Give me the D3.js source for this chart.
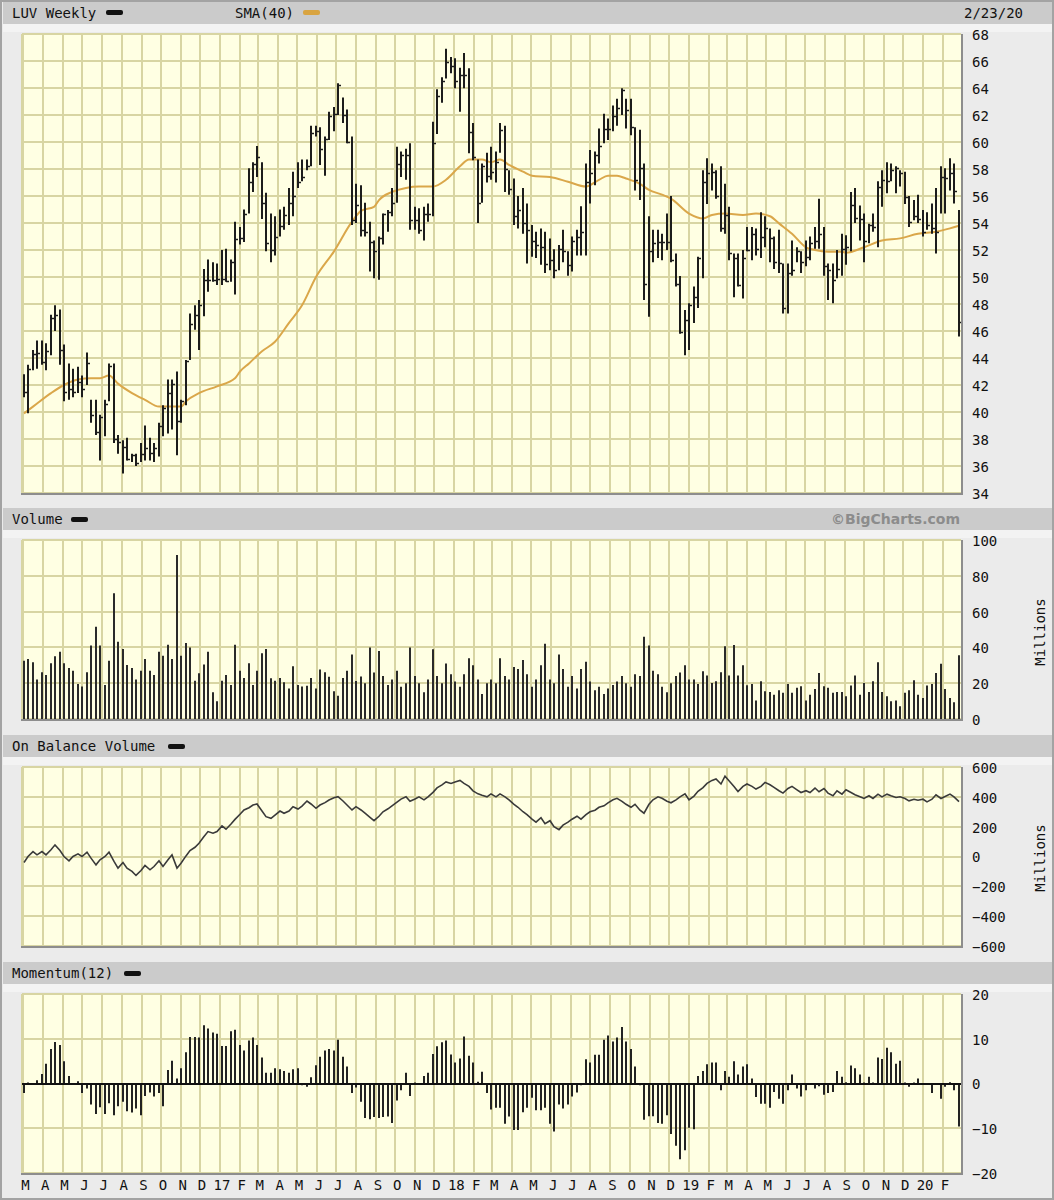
<!DOCTYPE html>
<html><head><meta charset="utf-8">
<script src="https://cdn.jsdelivr.net/npm/d3@7"></script>
<style>
html,body{margin:0;padding:0;background:#ebebeb;}
svg{display:block;}
text{font-family:"DejaVu Sans Mono",monospace;}
</style></head><body>
<svg id="chart" width="1054" height="1200"></svg>
<script>
// ---------- DATA (weekly bars, first week starting 2016-02-28, last 2020-02-23) ----------
const highs = [42.8,43.5,44.6,45.3,45.3,45.1,47.2,47.9,47.6,45.0,
43.6,43.2,43.35,42.7,44.4,40.9,40.9,39.8,40.9,43.6,
43.6,38.3,37.9,38.1,36.9,36.9,37.7,39.0,38.1,37.7,
39.2,40.5,42.4,42.4,43.0,40.9,43.85,47.3,47.9,48.3,
50.6,51.3,51.1,51.0,52.0,52.1,51.3,54.1,53.7,55.0,
58.05,58.5,59.7,58.5,56.25,54.7,54.5,55.0,55.2,56.6,
57.8,58.5,58.7,58.7,61.2,61.2,61.1,60.4,62.25,62.6,
64.35,63.3,62.4,60.4,56.9,56.8,55.5,54.1,52.7,53.0,
54.7,54.96,56.6,59.65,59.3,59.5,59.9,55.2,55.1,55.2,
55.45,61.5,63.9,64.8,66.9,66.3,66.2,65.5,66.6,65.46,
61.4,58.7,58.4,59.2,59.65,59.3,61.4,61.2,57.9,57.3,
56.0,56.6,55.45,53.85,53.35,53.6,53.35,52.86,52.05,52.37,
53.5,51.9,53.0,53.5,55.25,58.4,59.4,59.3,61.0,62.1,
61.75,62.7,63.2,63.98,63.2,63.2,61.1,60.9,58.4,54.5,
53.5,53.5,53.2,54.7,56.0,51.75,50.07,47.55,48.05,49.3,
51.5,57.9,58.8,58.4,57.9,58.2,56.9,55.2,51.75,51.75,
52.0,53.7,53.7,53.6,54.8,54.5,53.6,53.0,53.5,51.0,
51.0,52.7,52.2,51.9,52.7,53.0,53.7,55.8,53.7,51.0,
51.0,52.0,53.2,53.1,56.3,56.6,55.3,54.7,53.95,54.7,
57.1,57.9,58.5,58.4,58.2,57.9,57.8,56.0,55.7,56.1,
54.96,54.8,55.45,56.6,58.2,58.05,58.8,58.4,54.96];

const lows = [41.1,39.9,43.1,43.2,43.5,43.1,44.2,46.0,43.5,40.8,
40.9,41.1,41.4,41.1,42.0,39.2,38.3,36.4,38.2,40.8,
37.7,36.9,35.45,36.4,36.3,36.0,36.3,36.4,36.4,36.3,
36.7,38.2,38.4,38.7,36.8,39.2,40.5,43.85,46.1,44.6,
47.1,48.9,49.65,49.4,49.4,49.65,49.65,48.7,52.4,52.6,
54.7,56.3,57.4,54.3,51.9,51.1,51.6,53.0,53.5,53.85,
54.5,56.6,57.1,57.9,58.2,60.4,58.3,57.5,60.15,60.8,
62.0,61.4,59.9,53.85,54.0,53.0,53.0,50.4,49.9,49.8,
52.4,53.35,54.5,55.5,57.4,57.2,53.5,53.5,53.2,52.7,
54.1,54.5,60.6,62.9,64.7,65.1,63.98,62.25,63.98,59.16,
58.65,54.0,55.5,57.0,57.2,57.0,59.2,56.3,56.1,53.85,
53.6,53.2,51.0,51.5,51.4,50.9,50.3,50.5,49.9,50.5,
51.1,50.1,50.4,51.6,51.6,51.6,55.45,56.8,58.4,59.9,
60.15,60.8,61.2,62.0,61.0,60.5,56.4,55.7,48.3,47.06,
51.1,51.4,51.25,52.0,51.1,49.3,45.8,44.2,44.6,46.6,
47.7,49.9,55.4,56.4,55.8,53.35,53.2,51.25,48.5,49.3,
48.4,51.9,51.25,51.6,51.4,52.2,51.1,50.6,50.3,47.3,
47.3,50.1,51.1,50.3,50.8,51.25,52.1,52.1,50.1,48.3,
48.05,49.9,50.1,50.9,51.9,54.0,52.7,51.1,52.5,53.35,
52.2,55.2,56.2,57.1,56.2,56.7,55.4,53.7,54.2,54.0,
53.0,53.5,53.2,51.75,54.7,54.7,56.4,55.45,45.6];

const closes = [41.5,43.2,44.3,44.4,43.7,44.5,47.0,47.2,44.6,41.5,
41.7,41.5,42.2,41.7,43.6,39.8,38.5,39.6,40.6,43.4,
38.0,37.8,37.4,36.5,36.8,36.2,36.9,37.3,37.0,37.3,
39.0,40.3,41.4,42.1,39.3,40.8,43.8,46.5,47.2,47.9,
49.8,49.8,49.8,49.85,49.85,49.7,51.1,52.8,52.9,54.7,
57.0,58.4,58.9,55.5,52.5,52.0,53.0,53.8,54.6,55.5,
56.0,57.0,57.4,58.2,60.7,60.8,59.5,60.2,61.9,62.1,
64.2,62.0,60.0,54.2,55.3,53.5,53.3,52.6,51.9,52.9,
54.7,54.8,55.5,58.4,59.0,59.0,54.2,54.2,53.5,54.7,
54.7,59.9,63.4,64.5,65.95,65.6,64.5,64.96,64.96,60.77,
58.9,55.45,58.2,57.5,57.8,58.5,60.9,58.0,56.5,54.5,
55.0,54.0,53.5,52.7,52.4,52.2,51.0,51.25,50.5,52.1,
51.9,50.9,52.7,53.0,53.35,57.0,57.7,59.0,59.7,61.0,
61.0,61.9,62.5,63.85,62.4,61.1,57.2,58.05,49.5,51.9,
52.5,52.6,52.6,52.6,51.25,49.5,45.95,46.8,47.9,48.5,
51.4,57.0,57.7,57.8,56.0,53.6,54.6,51.75,51.4,49.4,
51.4,52.0,53.2,52.1,53.0,53.6,52.9,51.1,51.05,47.7,
50.3,50.5,51.9,51.1,51.5,52.5,52.7,53.2,50.8,50.5,
49.8,50.6,52.1,52.2,55.3,54.4,54.3,52.7,53.85,53.7,
56.7,57.2,57.1,57.9,58.05,57.7,55.95,54.1,54.5,54.3,
53.35,53.85,53.6,53.35,57.4,57.3,57.7,56.4,46.7];

// SMA(40) read at selected weeks (week index from first bar)
const smaWeek = [0,2,6,9,12,15,17,19,21,24,27,30,33,35,36,39,43,47,48,50,
53,56,59,62,65,69,73,75,78,79,82,85,88,91,94,97,99,102,104,106,
108,111,113,117,121,125,128,130,132,134,137,139,142,144,148,151,153,156,160,163,
166,168,171,174,176,179,182,183,187,191,195,199,203,206,208];
const smaValue = [39.9,40.4,41.4,42.0,42.4,42.5,42.5,42.7,42.1,41.4,40.9,40.4,40.4,40.4,40.8,41.4,41.9,42.5,43.0,43.6,
44.5,45.2,46.6,47.9,50.0,51.9,54.1,54.9,55.2,55.7,56.3,56.6,56.7,56.7,57.2,58.2,58.7,58.7,58.5,58.7,
58.3,57.8,57.5,57.4,57.06,56.7,57.2,57.5,57.5,57.3,56.9,56.45,56.1,55.8,54.7,54.34,54.6,54.7,54.6,54.7,
54.5,53.97,53.2,52.2,52.0,51.87,51.87,51.8,52.2,52.7,52.86,53.2,53.35,53.6,53.8];

// Volume (millions)
const volumes = [32.6,33.5,31.7,22.0,26.1,24.6,31.1,35.0,37.6,31.1,
28.5,27.0,19.6,18.1,26.1,41.0,51.6,41.0,19.0,32.6,
70.2,43.2,39.1,30.2,28.5,22.0,27.0,33.5,27.0,24.6,
37.6,35.4,41.5,33.5,91.6,35.4,42.5,40.0,21.4,25.5,
30.4,37.6,14.9,9.9,21.4,24.6,19.0,41.5,27.0,22.9,
31.1,19.0,27.0,36.7,39.1,22.7,21.4,22.9,20.5,17.1,
29.4,19.0,18.1,18.6,22.9,17.1,27.6,26.1,23.6,15.5,
13.0,22.9,27.0,36.1,21.2,23.8,20,40,26,38,
24,19,22,27,18,20,40,24,20,15,
22,39,24,20,31,25,21,18,25,34,
30,22,14,20,22,20,34,24,22,29,
28,33,25,18,22,30,42,22,20,36,
28,18,24,17,28,32,21,16,18,14,
17,19,21,24,20,18,25,24,46,41,
27,25,18,15,20,24,26,30,22,22.0,
19.6,26.7,24.3,20.1,21.1,26.1,40.7,24.3,41.4,24.3,
30.0,18.8,19.6,10.4,21.1,15.5,15.1,13.6,16.0,14.6,
19.6,14.6,17.4,18.3,10.4,13.6,16.8,25.7,18.3,17.4,
14.6,15.1,15.1,12.7,18.7,24.3,13.6,20.1,15.1,21.1,
31.7,15.1,12.7,9.9,10.4,7.1,14.6,16.0,21.6,13.6,
11.8,18.7,19.6,25.7,30.8,16.8,11.8,9.3,35.6];

// On Balance Volume (millions)
const obv = [-40,0,33,11,33,11,45,78,40,0,
-29,0,18,0,29,-11,-56,-22,0,29,
-33,-78,-40,-78,-100,-127,-94,-60,-89,-67,
-29,-67,-22,11,-78,-45,4,40,62,89,
134,167,156,167,205,183,218,249,283,312,
327,345,352,305,267,256,278,305,290,305,
334,318,338,372,352,323,345,361,379,394,
401,372,345,312,334,312,290,262,240,270,
300,320,340,365,385,400,370,385,400,380,
400,430,460,480,500,490,500,510,490,470,
440,420,410,400,420,400,420,400,380,350,
330,300,280,250,230,260,220,240,200,180,
210,230,250,270,250,280,300,310,330,340,
360,380,390,370,350,330,350,310,290,350,
380,400,390,370,360,380,400,420,380,405,
437,462,490,510,520,486,538,508,470,436,
470,486,470,452,470,497,481,463,441,425,
456,470,447,429,441,429,459,434,456,425,
407,441,418,447,429,414,400,389,407,389,
418,400,418,407,396,400,389,373,384,377,
384,366,384,414,389,402,418,400,368];

// Momentum(12)
const momentum = [-2.1,0.2,-0.2,0.75,2.1,4.4,7.7,9.3,8.6,5.0,
1.7,0.1,0.5,-2.1,-1.1,-4.7,-6.8,-5.3,-6.8,-4.4,
-7.1,-5.1,-4.1,-6.2,-6.5,-5.6,-7.1,-2.8,-2.0,-2.9,
-2.1,-5.1,3.0,5.1,1.1,3.4,7.0,10.4,10.4,10.3,
13.0,12.3,11.4,11.1,8.4,8.4,11.7,12.0,8.6,7.4,
9.6,10.3,8.6,5.8,2.4,2.4,3.4,3.2,2.8,2.4,
3.2,3.4,-0.4,-0.75,1.4,4.1,6.0,7.4,7.7,7.4,
9.8,6.0,3.8,-2.1,-0.9,-4.1,-7.7,-8.0,-7.5,-7.7,
-7.5,-7.4,-8.8,-3.8,-1.5,2.4,-2.8,0.2,-0.1,1.7,
2.4,6.6,8.3,9.2,9.6,6.5,4.7,5.6,10.5,6.2,
4.7,0.4,2.6,-2.1,-5.8,-5.4,-5.4,-9.0,-7.4,-10.4,
-10.4,-6.4,-5.4,-3.2,-6.0,-6.0,-5.4,-9.0,-10.7,-4.7,
-5.6,-4.7,-2.9,-2.0,-0.4,5.4,4.7,6.4,6.4,9.8,
10.7,9.4,10.3,12.6,9.4,7.7,3.8,-0.4,-8.1,-7.3,
-7.3,-8.8,-9.0,-7.1,-11.3,-13.9,-16.9,-14.9,-9.9,-10.2,
1.7,2.8,4.3,4.7,4.7,-1.5,2.8,1.5,5.0,2.0,
3.8,4.3,1.1,-3.0,-4.5,-4.5,-5.4,-1.9,-3.4,-4.5,
-1.5,2.0,-1.1,-2.9,-1.5,-0.3,-1.1,-0.6,-2.5,-2.1,
-1.9,2.8,1.5,0.3,4.0,3.4,2.0,0.2,1.5,0.2,
5.8,5.5,8.0,7.0,4.4,5.1,0.2,-0.75,0.2,1.1,
0.1,-0.2,-2.1,0.1,-3.4,-0.75,0.3,-1.5,-9.6];

const priceTicks = [34,36,38,40,42,44,46,48,50,52,54,56,58,60,62,64,66,68];
const volumeTicks = [0,20,40,60,80,100];
const obvTicks = [-600,-400,-200,0,200,400,600];
const momentumTicks = [-20,-10,0,10,20];
const monthLetters = ["J","F","M","A","M","J","J","A","S","O","N","D"];
const headerDate = "2/23/20";

// ---------- LAYOUT ----------
const W = 1054, H = 1200, X0 = 22, X1 = 961;
const BG = "#ebebeb", PLOT_BG = "#ffffe3", GRID = "#d8d5a3", HEAD = "#cbcbcb";
const svg = d3.select("#chart");
svg.append("rect").attr("width", W).attr("height", H).attr("fill", BG);

const x = d3.scaleTime().domain([new Date(2016,1,27,19), new Date(2020,1,29)]).range([X0, X1]);
const t0 = new Date(2016,1,28);
const N = highs.length;
const bx = i => Math.round(x(d3.timeHour.offset(t0, i*168 + 60)));
const months = d3.timeMonth.range(new Date(2016,2,1), new Date(2020,2,1));

function header(y0, y1) {
  svg.append("rect").attr("x", 3).attr("y", y0).attr("width", 1049).attr("height", y1 - y0).attr("fill", HEAD);
  svg.append("rect").attr("x", 3).attr("y", y1).attr("width", 1049).attr("height", 8).attr("fill", "#f3f3f3");
}
function legendKey(xk, yk, color) {
  svg.append("rect").attr("x", xk).attr("y", yk).attr("width", 17).attr("height", 5).attr("rx", 2).attr("fill", color);
}
function headText(xt, yt, s, anchor) {
  svg.append("text").attr("x", xt).attr("y", yt).attr("dy", "0.35em").attr("font-size", 14)
    .attr("text-anchor", anchor || "start").attr("fill", "#111").text(s);
}

function panel(id, top, bottom, domain, ticks) {
  const y = d3.scaleLinear().domain(domain).range([bottom, top]);
  svg.append("rect").attr("x", X0).attr("y", top).attr("width", X1 - X0).attr("height", bottom - top).attr("fill", PLOT_BG);
  const g = svg.append("g");
  g.selectAll("line.h").data(ticks).join("line")
    .attr("x1", X0).attr("x2", X1).attr("y1", d => Math.round(y(d))).attr("y2", d => Math.round(y(d)))
    .attr("stroke", GRID).attr("stroke-width", 2);
  g.selectAll("line.v").data(months.filter(m => x(m) > X0 + 1)).join("line")
    .attr("x1", d => Math.round(x(d))).attr("x2", d => Math.round(x(d))).attr("y1", top).attr("y2", bottom)
    .attr("stroke", GRID).attr("stroke-width", 2);
  g.append("line").attr("x1", X0).attr("x2", X0).attr("y1", top).attr("y2", bottom).attr("stroke", GRID).attr("stroke-width", 2);
  // shadow right & bottom
  svg.append("line").attr("x1", X1 + 1).attr("x2", X1 + 1).attr("y1", top).attr("y2", bottom + 2).attr("stroke", "#8d8d8d").attr("stroke-width", 2);
  svg.append("line").attr("x1", X0 - 1).attr("x2", X1 + 2).attr("y1", bottom + 1).attr("y2", bottom + 1).attr("stroke", "#8d8d8d").attr("stroke-width", 2);
  // tick labels
  svg.append("g").selectAll("text").data(ticks).join("text")
    .attr("x", 972).attr("y", d => y(d) + 1).attr("dy", "0.35em").attr("font-size", 14).attr("fill", "#111")
    .text(d => d < 0 ? "\u2212" + Math.abs(d) : d);
  svg.append("clipPath").attr("id", id).append("rect").attr("x", X0).attr("y", top - 1).attr("width", X1 - X0).attr("height", bottom - top + 2);
  const content = svg.append("g").attr("clip-path", `url(#${id})`);
  return { y, g: content };
}

// ---------- PRICE ----------
header(2, 24);
headText(12, 13, "LUV Weekly");
legendKey(106, 10, "#111");
headText(235, 13, "SMA(40)");
legendKey(303, 10, "#d9a441");
headText(1023, 13, headerDate, "end");

const P = panel("clipP", 34, 493, [34, 68], priceTicks);
const idx = d3.range(N);
P.g.append("path")
  .datum(d3.range(smaWeek.length))
  .attr("fill", "none").attr("stroke", "#daa74a").attr("stroke-width", 2)
  .attr("d", d3.line().x(k => bx(smaWeek[k])).y(k => P.y(smaValue[k])).curve(d3.curveMonotoneX));
P.g.selectAll("line.bar").data(idx).join("line")
  .attr("x1", bx).attr("x2", bx)
  .attr("y1", i => P.y(highs[i])).attr("y2", i => P.y(lows[i]))
  .attr("stroke", "#1c1c1c").attr("stroke-width", 2);
P.g.selectAll("line.tick").data(idx).join("line")
  .attr("x1", bx).attr("x2", i => bx(i) + 3)
  .attr("y1", i => Math.round(P.y(closes[i])) + 0.5).attr("y2", i => Math.round(P.y(closes[i])) + 0.5)
  .attr("stroke", "#1c1c1c").attr("stroke-width", 1.5);

// ---------- VOLUME ----------
header(508, 530);
headText(12, 519, "Volume");
legendKey(71, 517, "#111");
svg.append("text").attr("x", 960).attr("y", 519).attr("dy", "0.36em").attr("text-anchor", "end")
  .style("font-family", "Verdana, 'DejaVu Sans', sans-serif").style("font-weight", "bold").style("font-size", "14px")
  .attr("fill", "#8c8c8c").text("\u00a9BigCharts.com");
const V = panel("clipV", 540, 719, [0, 100], volumeTicks);
V.g.selectAll("line.vol").data(idx).join("line")
  .attr("x1", bx).attr("x2", bx).attr("y1", V.y(0)).attr("y2", i => V.y(volumes[i]))
  .attr("stroke", "#2a2a2a").attr("stroke-width", 2);
svg.append("text").attr("transform", "translate(1040,632) rotate(-90)").attr("text-anchor", "middle")
  .attr("dy", "0.35em").attr("font-size", 14).attr("fill", "#111").text("Millions");

// ---------- OBV ----------
header(735, 757);
headText(12, 746, "On Balance Volume");
legendKey(168, 744, "#111");
const O = panel("clipO", 767, 946, [-600, 600], obvTicks);
O.g.append("path").datum(idx)
  .attr("fill", "none").attr("stroke", "#3a3a3a").attr("stroke-width", 1.6)
  .attr("d", d3.line().x(bx).y(i => O.y(obv[i])));
svg.append("text").attr("transform", "translate(1040,858) rotate(-90)").attr("text-anchor", "middle")
  .attr("dy", "0.35em").attr("font-size", 14).attr("fill", "#111").text("Millions");

// ---------- MOMENTUM ----------
header(962, 984);
headText(12, 973, "Momentum(12)");
legendKey(124, 971, "#111");
const M = panel("clipM", 994, 1173, [-20, 20], momentumTicks);
M.g.selectAll("line.mom").data(idx).join("line")
  .attr("x1", bx).attr("x2", bx).attr("y1", M.y(0)).attr("y2", i => M.y(momentum[i]))
  .attr("stroke", "#222").attr("stroke-width", 2);
M.g.append("line").attr("x1", X0).attr("x2", X1).attr("y1", Math.round(M.y(0))).attr("y2", Math.round(M.y(0)))
  .attr("stroke", "#111").attr("stroke-width", 2);

// month labels
svg.append("g").selectAll("text").data(months).join("text")
  .attr("x", d => x(d) + 2).attr("y", 1185).attr("dy", "0.35em").attr("text-anchor", "middle")
  .attr("font-size", 14).attr("fill", "#111")
  .text(d => d.getMonth() === 0 ? d3.timeFormat("%y")(d) : monthLetters[d.getMonth()]);

// outer frame
svg.append("rect").attr("x", 1).attr("y", 1).attr("width", W - 2).attr("height", H - 2)
  .attr("fill", "none").attr("stroke", "#a3a3a3").attr("stroke-width", 2);
</script>
</body></html>
